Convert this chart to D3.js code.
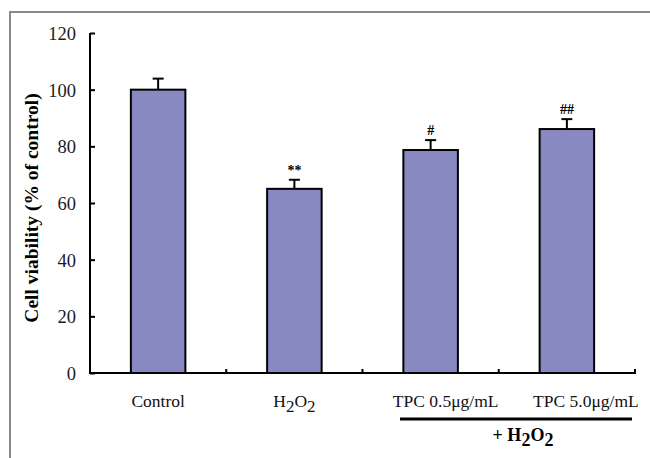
<!DOCTYPE html>
<html><head><meta charset="utf-8">
<script src="https://cdn.jsdelivr.net/npm/d3@7"></script>
<style>body{margin:0;background:#fff}svg{display:block}text{font-family:"Liberation Serif","Times New Roman",serif}</style>
</head><body>
<svg id="c" width="650" height="458"></svg>
<script>
const categories = ["Control", "H2O2", "TPC 0.5μg/mL", "TPC 5.0μg/mL"];
const values = [100, 65, 78.7, 86.1];
const errors = [3.9, 3.2, 3.5, 3.5];
const marks = ["", "**", "#", "##"];
const yTicks = [0, 20, 40, 60, 80, 100, 120];

const svg = d3.select("#c");
// frame
svg.append("path").attr("d", "M10,458 V12 H650").attr("fill", "none").attr("stroke", "#8a8a8a").attr("stroke-width", 2);

const x = d3.scaleBand().domain(categories).range([90, 635]).paddingInner(0.6).paddingOuter(0.3);
const y = d3.scaleLinear().domain([0, 120]).range([373, 33]);

// y axis
const ya = svg.append("g").attr("transform", "translate(90,0)")
  .call(d3.axisRight(y).tickValues(yTicks).tickSize(5).tickFormat(d3.format("d")));
ya.select(".domain").attr("d", `M0,${y(0)}V${y(120)}`).attr("stroke", "#000").attr("stroke-width", 2);
ya.selectAll(".tick line").attr("stroke", "#000").attr("stroke-width", 2);
ya.selectAll(".tick text").attr("x", -14).attr("text-anchor", "end").attr("dy", "0.35em")
  .style("font-size", "18.5px").attr("fill", "#1a1a2a").style("font-family", '"Liberation Serif",serif');

// x axis line
svg.append("line").attr("x1", 89).attr("x2", 636).attr("y1", y(0)).attr("y2", y(0)).attr("stroke", "#000").attr("stroke-width", 2);
const bounds = categories.map((c, i) => x(c) + x.bandwidth() + x.step() * x.paddingInner() / 2);
svg.selectAll(".xt").data(bounds).enter().append("line")
  .attr("x1", d => d).attr("x2", d => d).attr("y1", y(0)).attr("y2", y(0) - 4)
  .attr("stroke", "#000").attr("stroke-width", 2);

// error bars
const g = svg.append("g");
categories.forEach((c, i) => {
  const cx = x(c) + x.bandwidth() / 2;
  g.append("line").attr("x1", cx).attr("x2", cx).attr("y1", y(values[i])).attr("y2", y(values[i] + errors[i])).attr("stroke", "#000").attr("stroke-width", 2);
  g.append("line").attr("x1", cx - 5.5).attr("x2", cx + 5.5).attr("y1", y(values[i] + errors[i])).attr("y2", y(values[i] + errors[i])).attr("stroke", "#000").attr("stroke-width", 2);
  if (marks[i]) g.append("text").attr("x", cx).attr("y", y(values[i] + errors[i]) - 5)
    .attr("text-anchor", "middle").style("font-size", "14px").style("font-weight", "bold").text(marks[i]);
});
// bars
svg.selectAll(".bar").data(categories).enter().append("rect")
  .attr("x", d => x(d)).attr("width", x.bandwidth())
  .attr("y", (d, i) => y(values[i])).attr("height", (d, i) => y(0) - y(values[i]))
  .attr("fill", "#8989c2").attr("stroke", "#000").attr("stroke-width", 2);

// x labels
const lab = svg.append("g").style("font-size", "17.5px").attr("fill", "#111");
const off = [0, 0, 15, 19];
categories.forEach((c, i) => {
  const cx = x(c) + x.bandwidth() / 2 + off[i];
  const t = lab.append("text").attr("x", cx).attr("y", 407).attr("text-anchor", "middle");
  if (c === "H2O2") {
    t.append("tspan").text("H");
    t.append("tspan").attr("dy", 5).style("font-size", "17px").text("2");
    t.append("tspan").attr("dy", -5).text("O");
    t.append("tspan").attr("dy", 5).style("font-size", "17px").text("2");
  } else t.text(c);
});
// +H2O2 bracket
svg.append("line").attr("x1", 400).attr("x2", 632).attr("y1", 419).attr("y2", 419).attr("stroke", "#000").attr("stroke-width", 3);
const ph = svg.append("text").attr("x", 523).attr("y", 441).attr("text-anchor", "middle").style("font-size", "18px").style("font-weight", "bold");
ph.append("tspan").text("+ H");
ph.append("tspan").attr("dy", 5).text("2");
ph.append("tspan").attr("dy", -5).text("O");
ph.append("tspan").attr("dy", 5).text("2");

// y label
svg.append("text").attr("transform", `translate(38,${(y(0) + y(120)) / 2 + 5}) rotate(-90)`)
  .attr("text-anchor", "middle").style("font-size", "19.5px").style("font-weight", "bold")
  .text("Cell viability (% of control)");
</script>
</body></html>
